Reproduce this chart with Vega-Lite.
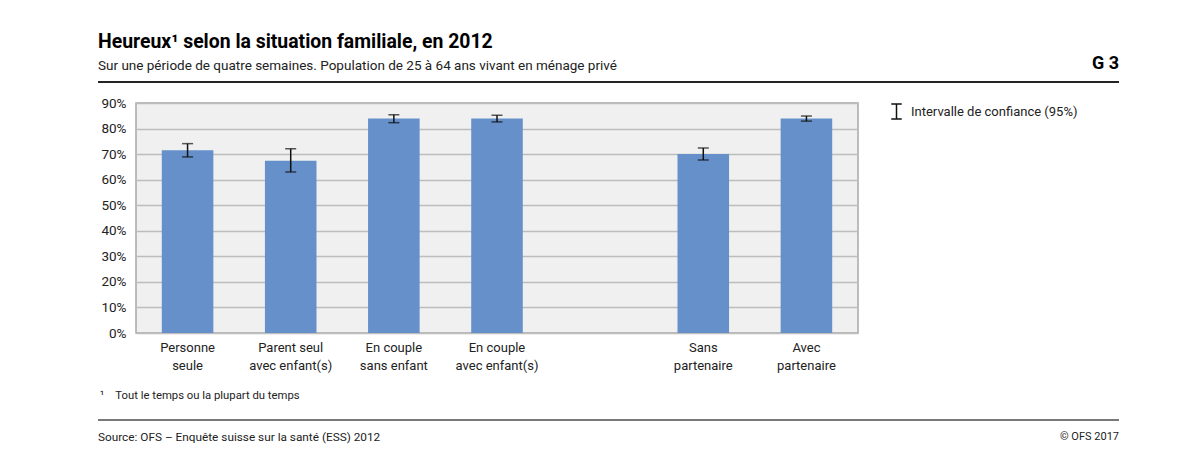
{
  "$schema": "https://vega.github.io/schema/vega-lite/v6.json",
  "padding": {"left": 97, "top": 0, "right": 0, "bottom": 0},
  "spacing": 0,
  "bounds": "flush",
  "config": {
    "font": "Roboto",
    "view": {"stroke": null},
    "concat": {"spacing": 0}
  },
  "datasets": {
    "bars": [
      {"cat": "Personne|seule", "val": 0.715, "lo": 0.689, "hi": 0.741},
      {"cat": "Parent seul|avec enfant(s)", "val": 0.674, "lo": 0.630, "hi": 0.721},
      {"cat": "En couple|sans enfant", "val": 0.839, "lo": 0.823, "hi": 0.854},
      {"cat": "En couple|avec enfant(s)", "val": 0.839, "lo": 0.826, "hi": 0.852},
      {"cat": "Sans|partenaire", "val": 0.700, "lo": 0.677, "hi": 0.724},
      {"cat": "Avec|partenaire", "val": 0.839, "lo": 0.829, "hi": 0.849}
    ],
    "header": [
      {"part": "title", "label": "Heureux¹ selon la situation familiale, en 2012"},
      {"part": "subtitle", "label": "Sur une période de quatre semaines. Population de 25 à 64 ans vivant en ménage privé"},
      {"part": "code", "label": "G 3"}
    ],
    "footer": [
      {"part": "note", "label": "¹\u00a0\u00a0\u00a0\u00a0Tout le temps ou la plupart du temps"},
      {"part": "source", "label": "Source: OFS – Enquête suisse sur la santé (ESS) 2012"},
      {"part": "copy", "label": "© OFS 2017"}
    ]
  },
  "vconcat": [
    {
      "width": 983,
      "height": 103,
      "data": {"name": "header"},
      "encoding": {
        "x": {"type": "quantitative", "scale": {"domain": [0, 983], "nice": false, "zero": false}, "axis": null},
        "y": {"type": "quantitative", "scale": {"domain": [0, 103], "nice": false, "reverse": true}, "axis": null}
      },
      "layer": [
        {
          "transform": [{"filter": "datum.part == 'title'"}],
          "mark": {"type": "text", "align": "left", "baseline": "middle", "fontSize": 19.4, "fontWeight": "bold", "color": "#000"},
          "encoding": {"x": {"datum": -38}, "y": {"datum": 42}, "text": {"field": "label"}}
        },
        {
          "transform": [{"filter": "datum.part == 'subtitle'"}],
          "mark": {"type": "text", "align": "left", "baseline": "middle", "fontSize": 13.5, "color": "#222"},
          "encoding": {"x": {"datum": -38}, "y": {"datum": 66}, "text": {"field": "label"}}
        },
        {
          "transform": [{"filter": "datum.part == 'code'"}],
          "mark": {"type": "text", "align": "right", "baseline": "middle", "fontSize": 18, "fontWeight": "bold", "color": "#000"},
          "encoding": {"x": {"datum": 983}, "y": {"datum": 64}, "text": {"field": "label"}}
        },
        {
          "mark": {"type": "rule", "color": "#222", "strokeWidth": 1.5},
          "encoding": {"x": {"datum": -38}, "x2": {"datum": 983}, "y": {"datum": 82}}
        }
      ]
    },
    {
      "width": 722,
      "height": 230,
      "data": {"name": "bars"},
      "view": {"fill": "#F0F0F0", "stroke": "#A8A8A8", "strokeWidth": 1.5},
      "encoding": {
        "x": {
          "field": "cat",
          "type": "nominal",
          "sort": null,
          "scale": {
            "domain": ["Personne|seule", "Parent seul|avec enfant(s)", "En couple|sans enfant", "En couple|avec enfant(s)", " ", "Sans|partenaire", "Avec|partenaire"],
            "paddingInner": 0.5,
            "paddingOuter": 0.25
          },
          "axis": {
            "title": null,
            "labelAngle": 0,
            "labelExpr": "split(datum.label, '|')",
            "labelFontSize": 13,
            "labelColor": "#222",
            "labelLineHeight": 18,
            "labelPadding": 8,
            "labelBaseline": "top",
            "ticks": false,
            "domain": false
          }
        },
        "y": {
          "field": "val",
          "type": "quantitative",
          "scale": {"domain": [0, 0.9], "nice": false},
          "axis": {
            "title": null,
            "values": [0, 0.1, 0.2, 0.3, 0.4, 0.5, 0.6, 0.7, 0.8, 0.9],
            "tickCount": 20,
            "format": ".0%",
            "labelOverlap": false,
            "labelFontSize": 13.5,
            "labelColor": "#222",
            "labelPadding": 10,
            "ticks": false,
            "domain": false,
            "gridColor": "#BDBDBD",
            "gridWidth": 1.5
          }
        }
      },
      "layer": [
        {
          "mark": {"type": "bar", "color": "#6690CA"}
        },
        {
          "mark": {"type": "rule", "strokeWidth": 1.5},
          "encoding": {
            "y": {"field": "lo", "type": "quantitative", "title": null},
            "y2": {"field": "hi"},
            "color": {
              "datum": "Intervalle de confiance (95%)",
              "scale": {"range": ["#111"]},
              "legend": {
                "title": null,
                "orient": "none",
                "legendX": 752,
                "legendY": 103,
                "symbolType": "M-0.7,-1H0.7M0,-1V1M-0.7,1H0.7",
                "symbolSize": 225,
                "symbolStrokeWidth": 1.5,
                "symbolFillColor": "transparent",
                "symbolStrokeColor": "#111",
                "labelFontSize": 13,
                "labelColor": "#222",
                "labelOffset": 6,
                "labelLimit": 400
              }
            }
          }
        },
        {
          "mark": {"type": "tick", "color": "#111", "size": 11, "thickness": 1.5},
          "encoding": {"y": {"field": "lo", "type": "quantitative", "title": null}}
        },
        {
          "mark": {"type": "tick", "color": "#111", "size": 11, "thickness": 1.5},
          "encoding": {"y": {"field": "hi", "type": "quantitative", "title": null}}
        }
      ]
    },
    {
      "width": 983,
      "height": 118,
      "data": {"name": "footer"},
      "encoding": {
        "x": {"type": "quantitative", "scale": {"domain": [0, 983], "nice": false, "zero": false}, "axis": null},
        "y": {"type": "quantitative", "scale": {"domain": [0, 118], "nice": false, "reverse": true}, "axis": null}
      },
      "layer": [
        {
          "transform": [{"filter": "datum.part == 'note'"}],
          "mark": {"type": "text", "align": "left", "baseline": "middle", "fontSize": 11.3, "color": "#222"},
          "encoding": {"x": {"datum": -36}, "y": {"datum": 63}, "text": {"field": "label"}}
        },
        {
          "mark": {"type": "rule", "color": "#666", "strokeWidth": 1.2},
          "encoding": {"x": {"datum": -38}, "x2": {"datum": 983}, "y": {"datum": 87}}
        },
        {
          "transform": [{"filter": "datum.part == 'source'"}],
          "mark": {"type": "text", "align": "left", "baseline": "middle", "fontSize": 11.8, "color": "#222"},
          "encoding": {"x": {"datum": -38}, "y": {"datum": 104}, "text": {"field": "label"}}
        },
        {
          "transform": [{"filter": "datum.part == 'copy'"}],
          "mark": {"type": "text", "align": "right", "baseline": "middle", "fontSize": 11, "color": "#222"},
          "encoding": {"x": {"datum": 983}, "y": {"datum": 104}, "text": {"field": "label"}}
        }
      ]
    }
  ]
}
